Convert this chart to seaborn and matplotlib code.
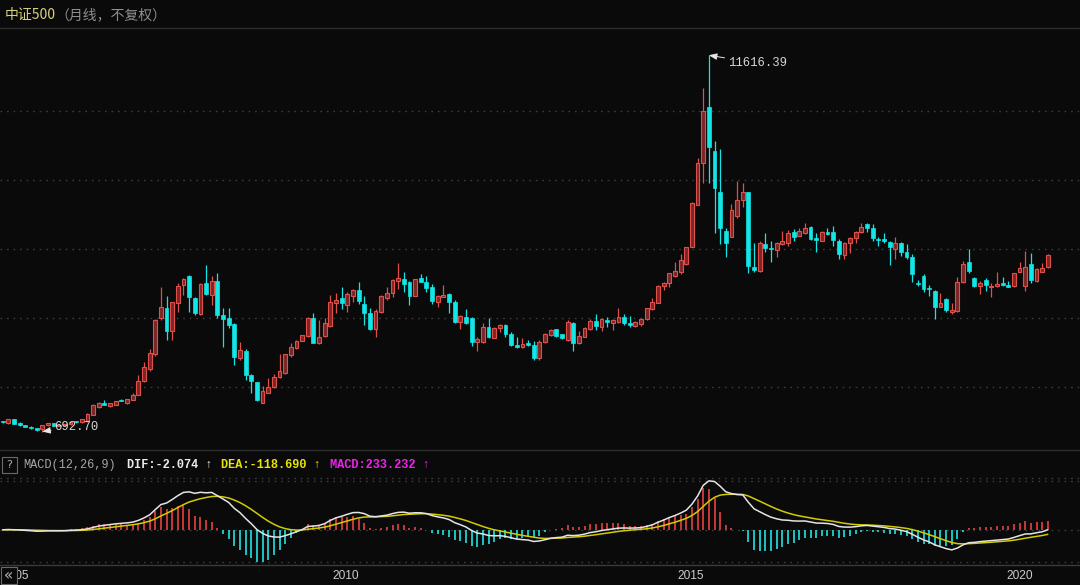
import numpy as np
import pandas as pd
import matplotlib
matplotlib.use("Agg")
import matplotlib.pyplot as plt
from matplotlib.patches import Rectangle
import seaborn as sns

# ---------------- data (CSI 500 monthly, 2005-01 .. 2020-06) ----------------
months = pd.date_range("2005-01-01", periods=186, freq="MS")
open_ = [1000, 950, 1045, 930, 880, 835, 790, 760, 880, 935, 860, 885, 905, 975, 960, 1000, 1175, 1400, 1530, 1440,
         1470, 1620, 1530, 1620, 1760, 2150, 2510, 2950, 3980, 4269, 3600, 4434, 4946, 5217, 4579, 4105, 5014, 4656, 5072, 4076,
         3979, 3814, 2818, 3040, 2334, 2121, 1531, 1821, 1976, 2266, 2382, 2914, 3108, 3321, 3466, 3979, 3253, 3466, 3756, 4414,
         4559, 4366, 4637, 4801, 4385, 4124, 3660, 4172, 4559, 4705, 5072, 5111, 5024, 4637, 5140, 5043, 4879, 4463, 4608, 4675,
         4463, 3863, 4008, 3979, 3301, 3282, 3717, 3418, 3688, 3785, 3524, 3205, 3137, 3253, 3205, 2818, 3301, 3495, 3659, 3514,
         3350, 3853, 3253, 3447, 3659, 3901, 3717, 3930, 3833, 3882, 4008, 3853, 3756, 3814, 3950, 4240, 4433, 4927, 5014, 5217,
         5334, 5556, 6059, 7269, 8478, 10104, 8846, 7637, 6524, 6350, 6950, 7414, 7637, 5478, 5362, 6137, 6011, 5963, 6137, 6175,
         6475, 6369, 6447, 6640, 6301, 6233, 6495, 6495, 6233, 5817, 6156, 6301, 6475, 6717, 6611, 6272, 6282, 6204, 5982, 6156,
         5914, 5769, 5014, 5217, 4850, 4772, 4317, 4530, 4172, 4192, 5043, 5624, 5140, 4917, 5092, 4879, 4917, 4995, 4946, 4917,
         5334, 4917, 5546, 5063, 5334, 5479]
high = [1010, 1055, 1050, 960, 890, 850, 800, 890, 945, 950, 900, 915, 985, 1000, 1050, 1240, 1480, 1560, 1610, 1520,
        1590, 1640, 1650, 1810, 2330, 2720, 3098, 3950, 4880, 4627, 4460, 4995, 5140, 5237, 4608, 4995, 5527, 5208, 5305, 4269,
        4269, 3834, 3301, 3089, 2353, 2140, 2014, 2237, 2363, 2943, 2950, 3253, 3350, 3505, 4027, 4143, 3930, 3979, 4656, 4705,
        4879, 4753, 4821, 5043, 4627, 4269, 4240, 4656, 4879, 5121, 5595, 5314, 5063, 5130, 5256, 5208, 4966, 4656, 4946, 4705,
        4511, 4076, 4240, 4027, 3427, 3853, 3979, 3717, 3814, 3814, 3592, 3447, 3398, 3350, 3331, 3350, 3560, 3660, 3680, 3530,
        3930, 3882, 3621, 3737, 3950, 4105, 3979, 4008, 3950, 4269, 4105, 4046, 3901, 3979, 4280, 4559, 4940, 5043, 5304, 5624,
        5837, 6060, 7366, 8624, 10656, 11616.39, 9136, 8895, 6592, 7298, 7975, 7917, 7650, 6156, 6224, 6466, 6233, 6200, 6524, 6543,
        6572, 6592, 6756, 6659, 6466, 6510, 6591, 6669, 6272, 6204, 6350, 6524, 6737, 6737, 6708, 6350, 6466, 6233, 6330, 6185,
        6127, 5837, 5092, 5256, 4946, 4801, 4724, 4559, 4414, 5169, 5653, 5982, 5169, 5072, 5140, 5014, 5314, 5169, 5072, 5300,
        5624, 5943, 5866, 5430, 5595, 5836]
low = [950, 910, 905, 860, 820, 770, 720, 692.70, 860, 850, 850, 870, 895, 950, 955, 970, 1160, 1380, 1460, 1400,
       1460, 1570, 1480, 1600, 1740, 2120, 2460, 2900, 3930, 3350, 3350, 4172, 4656, 4172, 4076, 4076, 4656, 4366, 3979, 3156,
       3688, 2624, 2769, 2189, 1821, 1588, 1511, 1802, 1947, 2237, 2370, 2866, 3089, 3311, 3427, 3253, 3234, 3427, 3737, 4143,
       4240, 4172, 4463, 4395, 3785, 3640, 3447, 4143, 4511, 4608, 4821, 4734, 4366, 4617, 5024, 4753, 4395, 4298, 4588, 4143,
       3853, 3660, 3814, 3185, 3040, 3253, 3398, 3398, 3592, 3427, 3176, 3108, 3108, 3176, 2769, 2769, 3272, 3480, 3450, 3380,
       3330, 3040, 3233, 3427, 3640, 3640, 3621, 3717, 3640, 3853, 3785, 3737, 3737, 3756, 3940, 4220, 4420, 4801, 4879, 5188,
       5256, 5540, 6050, 7260, 7917, 7917, 6466, 6137, 5749, 6330, 6882, 7221, 5285, 5334, 5334, 5914, 5604, 5750, 6110, 6088,
       6224, 6360, 6430, 6253, 5914, 6220, 6398, 6079, 5701, 5701, 5885, 6175, 6446, 6495, 6233, 6079, 6175, 5527, 5701, 5798,
       5701, 5043, 4917, 4753, 4627, 3959, 4298, 4172, 4105, 4172, 5014, 5285, 4879, 4685, 4782, 4588, 4898, 4927, 4879, 4900,
       5314, 4782, 5014, 5043, 5314, 5450]
close = [958, 1045, 915, 880, 835, 790, 740, 880, 935, 860, 885, 905, 975, 960, 1045, 1190, 1460, 1530, 1470, 1510,
         1580, 1580, 1630, 1760, 2170, 2560, 2960, 3930, 4300, 3621, 4443, 4927, 5111, 4608, 4143, 4975, 4685, 5072, 4076, 3950,
         3785, 2866, 3060, 2334, 2169, 1608, 1879, 1976, 2285, 2460, 2943, 3137, 3330, 3485, 3979, 3272, 3447, 3853, 4463, 4511,
         4414, 4675, 4801, 4482, 4143, 3669, 4201, 4627, 4705, 5092, 5140, 4975, 4637, 5111, 5043, 4869, 4492, 4627, 4656, 4463,
         3882, 4046, 3853, 3301, 3369, 3717, 3427, 3688, 3785, 3524, 3205, 3137, 3234, 3205, 2818, 3301, 3524, 3640, 3466, 3398,
         3882, 3272, 3466, 3688, 3901, 3756, 3949, 3882, 3930, 4008, 3853, 3785, 3862, 3950, 4269, 4463, 4927, 4994, 5285, 5362,
         5672, 6040, 7317, 8498, 9998, 8943, 7772, 6611, 6156, 7124, 7414, 7637, 5508, 5382, 6175, 6011, 5982, 6156, 6224, 6466,
         6350, 6514, 6611, 6272, 6253, 6495, 6427, 6253, 5846, 6175, 6320, 6495, 6640, 6591, 6301, 6253, 6224, 6040, 6156, 5914,
         5769, 5266, 4975, 4821, 4821, 4317, 4414, 4221, 4221, 5043, 5556, 5353, 4917, 4995, 4946, 4917, 4966, 4946, 4898, 5285,
         5430, 5479, 5092, 5401, 5430, 5817]

year_labels = ["2005", "2010", "2015", "2020"]
year_tick_idx = [0, 58.3, 119.5, 177.6]
grid_levels = [2000, 4000, 6000, 8000, 10000]

title_main = "中证500"
title_sub = "（月线，不复权）"
macd_header = ["MACD(12,26,9)", "DIF:-2.074 ↑", "DEA:-118.690 ↑", "MACD:233.232 ↑"]

# ---------------- styling ----------------
BG = "#0a0a0a"
UP_EDGE, UP_FACE = "#e0504a", "#7a2626"
DN = "#12e6e6"
GRID = "#3c3c3c"

sns.set_theme(style="dark", rc={"axes.facecolor": BG, "figure.facecolor": BG,
                                "axes.grid": False, "savefig.facecolor": BG})
plt.rcParams["font.family"] = ["Noto Sans CJK SC", "DejaVu Sans"]
MONO = ["Liberation Mono", "DejaVu Sans Mono"]

df = pd.DataFrame({"date": months, "open": open_, "high": high, "low": low, "close": close})
df["idx"] = np.arange(len(df))
up = df["close"] >= df["open"]

# MACD from closes
ema12 = df["close"].ewm(span=12, adjust=False).mean()
ema26 = df["close"].ewm(span=26, adjust=False).mean()
df["dif"] = ema12 - ema26
df["dea"] = df["dif"].ewm(span=9, adjust=False).mean()
df["hist"] = 2 * (df["dif"] - df["dea"])

W, H = 1080, 585
fig = plt.figure(figsize=(W / 100, H / 100), dpi=100)


def box(top, bottom):
    return [0, 1 - bottom / H, 1, (bottom - top) / H]


XMIN, XMAX = -0.48, 190.7
ax = fig.add_axes(box(28, 450))
ax2 = fig.add_axes(box(478, 565))

# ---------------- candles ----------------
for lvl in grid_levels:
    ax.axhline(lvl, color=GRID, lw=1.0, ls=(0, (1.2, 3.5)), zorder=0)

wick_col = np.where(up, UP_EDGE, DN)
ax.vlines(df["idx"], df["low"], df["high"], colors=wick_col, lw=0.9, zorder=2)
body_bottom = np.minimum(df["open"], df["close"])
body_h = np.maximum(np.abs(df["close"] - df["open"]), 28)
ax.bar(df["idx"][up], body_h[up], bottom=body_bottom[up], width=0.68,
       color=UP_FACE, edgecolor=UP_EDGE, linewidth=0.8, zorder=3)
ax.bar(df["idx"][~up], body_h[~up], bottom=body_bottom[~up], width=0.68,
       color=DN, edgecolor=DN, linewidth=0.5, zorder=3)

ax.set_xlim(XMIN, XMAX)
ax.set_ylim(157, 12407)
ax.set_xticks([])
ax.set_yticks([])
for s in ["left", "right"]:
    ax.spines[s].set_visible(False)
for s in ["top", "bottom"]:
    ax.spines[s].set_color("#2c2c2c")
    ax.spines[s].set_linewidth(1.0)

# max / min annotations
imax = int(df["high"].idxmax())
imin = int(df["low"].idxmin())
arrow = dict(arrowstyle="-|>,head_length=0.55,head_width=0.22", color="#e6e6e6",
             lw=0.7, shrinkA=0, shrinkB=0)
ax.annotate(f"{df['high'][imax]:.2f}", xy=(imax, df["high"][imax]), xytext=(19, -8),
            textcoords="offset pixels", ha="left", va="center", color="#d6d6d6",
            fontsize=8.8, family=MONO, arrowprops=arrow, zorder=5)
ax.annotate(f"{df['low'][imin]:.2f}", xy=(imin, df["low"][imin]), xytext=(12, 5),
            textcoords="offset pixels", ha="left", va="center", color="#d6d6d6",
            fontsize=8.8, family=MONO, arrowprops=arrow, zorder=5)

# ---------------- MACD panel ----------------
pos = df["hist"] >= 0
ax2.vlines(df["idx"][pos], 0, df["hist"][pos], colors="#d83c3c", lw=1.3, zorder=2)
ax2.vlines(df["idx"][~pos], 0, df["hist"][~pos], colors="#1ed2d2", lw=1.3, zorder=2)
sns.lineplot(x=df["idx"], y=df["dif"], ax=ax2, color="#e4e4e4", lw=1.1, zorder=4, legend=False)
sns.lineplot(x=df["idx"], y=df["dea"], ax=ax2, color="#d2cc00", lw=1.1, zorder=3, legend=False)

vals = np.concatenate([df["dif"], df["dea"], df["hist"]])
dmin, dmax = vals.min(), vals.max()
pad = (dmax - dmin) * 0.035
ax2.set_ylim(dmin - pad, dmax + pad)
ax2.set_xlim(XMIN, XMAX)
for lvl in [dmin, 0, dmax]:
    ax2.axhline(lvl, color=GRID, lw=1.0, ls=(0, (1.2, 3.5)), zorder=0)
ax2.set_ylabel("")
ax2.set_xlabel("")
ax2.set_yticks([])
ax2.set_xticks(year_tick_idx)
ax2.set_xticklabels(year_labels)
ax2.tick_params(axis="x", colors="#4a4a4a", labelcolor="#cccccc", length=2, width=1,
                direction="out", pad=1.5, labelsize=8.6)
for lbl in ax2.get_xticklabels():
    lbl.set_ha("left")
    lbl.set_family(["Liberation Sans", "DejaVu Sans"])
for s in ["left", "right", "top"]:
    ax2.spines[s].set_visible(False)
ax2.spines["bottom"].set_color("#3a3a3a")
ax2.spines["bottom"].set_linewidth(1.0)

# ---------------- header texts ----------------
def fx(px):
    return px / W


def fy(py):
    return 1 - py / H


fig.text(fx(5), fy(15), title_main, color="#d9d37e", fontsize=10, va="center", ha="left")
fig.text(fx(55), fy(15), title_sub, color="#8e8e8e", fontsize=10, va="center", ha="left")

# '?' box
fig.add_artist(Rectangle((fx(2), fy(473)), fx(15), 16 / H, transform=fig.transFigure,
                         facecolor=BG, edgecolor="#6a6a6a", lw=0.8, zorder=5))
fig.text(fx(9.5), fy(465), "?", color="#b0b0b0", fontsize=8, ha="center", va="center",
         family=["DejaVu Sans"], zorder=6)
hdr_x = [23, 127, 221, 330]
hdr_col = ["#a6a6a6", "#ececec", "#e6e600", "#ee22ee"]
hdr_w = ["normal", "bold", "bold", "bold"]
for t, x0, c, w in zip(macd_header, hdr_x, hdr_col, hdr_w):
    fig.text(fx(x0), fy(465), t, color=c, fontsize=8.6, family=MONO, weight=w,
             ha="left", va="center")

# dotted top line of the MACD panel
fig.add_artist(plt.Line2D([0, 1], [fy(478), fy(478)], transform=fig.transFigure,
                          color=GRID, lw=1.0, ls=(0, (1.2, 3.5))))

# '<<' scroll button over the first year label
fig.add_artist(Rectangle((fx(0.5), fy(584)), fx(16), 17 / H, transform=fig.transFigure,
                         facecolor=BG, edgecolor="#6a6a6a", lw=0.8, zorder=5))
fig.text(fx(8.5), fy(575.5), "«", color="#b8b8b8", fontsize=11, ha="center", va="center",
         family=["DejaVu Sans"], zorder=6)

fig.savefig("out.png", dpi=100, facecolor=BG)
